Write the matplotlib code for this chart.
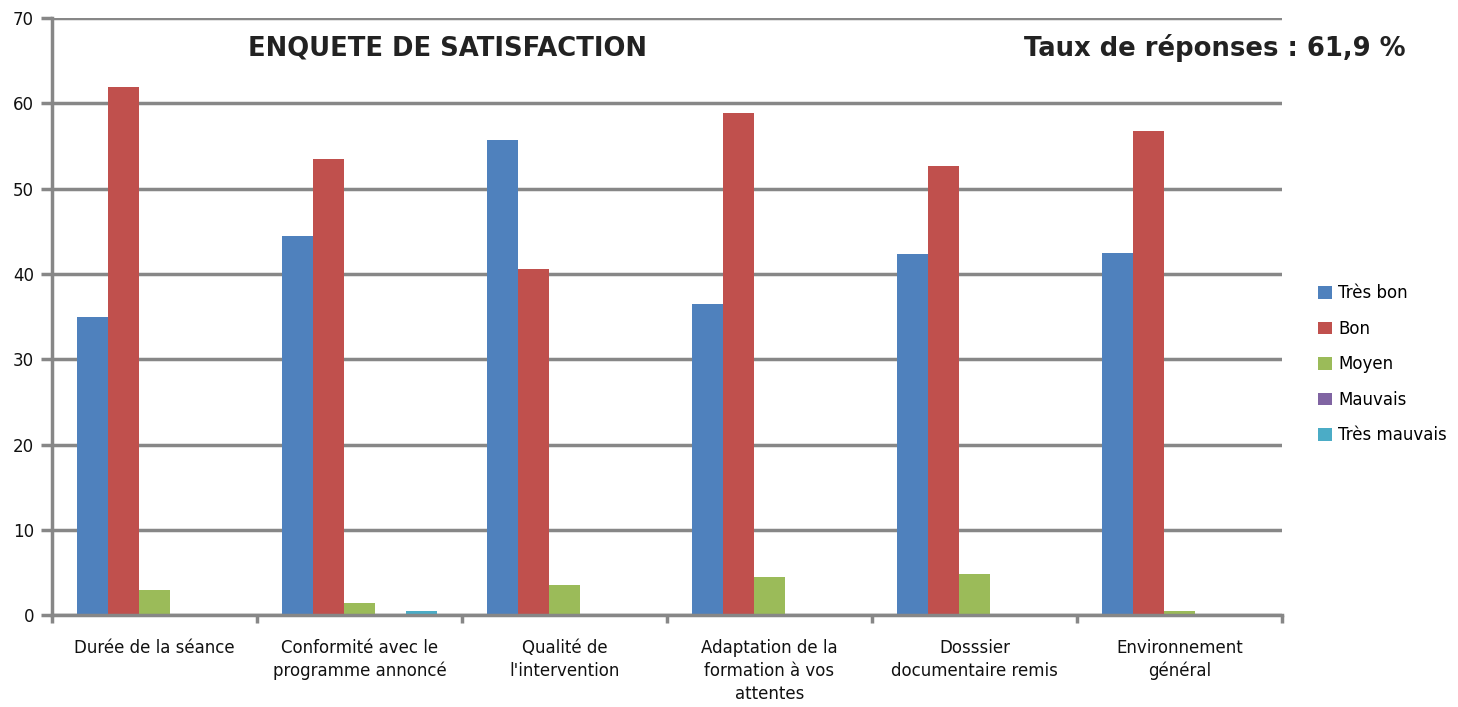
import numpy as np
import matplotlib.pyplot as plt

# Données
categories = ["Durée de la séance", "Conformité avec le\nprogramme annoncé",
              "Qualité de\nl'intervention", "Adaptation de la\nformation à vos\nattentes",
              "Dosssier\ndocumentaire remis", "Environnement\ngénéral"]
tres_bon = [35.0, 44.4, 55.7, 36.5, 42.3, 42.5]
bon = [61.9, 53.5, 40.6, 58.9, 52.6, 56.8]
moyen = [3.0, 1.4, 3.5, 4.5, 4.8, 0.5]
mauvais = [0, 0, 0, 0, 0, 0]
tres_mauvais = [0, 0.5, 0, 0, 0, 0]

series = [("Très bon", tres_bon, "#4F81BD"), ("Bon", bon, "#C0504D"),
          ("Moyen", moyen, "#9BBB59"), ("Mauvais", mauvais, "#8064A2"),
          ("Très mauvais", tres_mauvais, "#4BACC6")]

plt.rcParams['font.family'] = ['DejaVu Sans']

fig = plt.figure(figsize=(14.58, 7.07), dpi=100)
ax = fig.add_axes([0.0357, 0.130, 0.8436, 0.8445])

x = np.arange(len(categories))
w = 0.151
for i, (nom, vals, col) in enumerate(series):
    ax.bar(x + (i - 2) * w, vals, w, color=col, label=nom, zorder=2)

ax.set_xlim(-0.5, len(categories) - 0.5)
ax.set_ylim(0, 70)
ax.set_yticks(range(0, 71, 10))
ax.set_xticks(x)
ax.set_xticklabels(categories, fontsize=12, linespacing=1.35, color='#111111')
ax.set_xticks(np.arange(-0.5, len(categories), 1), minor=True)
ax.tick_params(axis='x', which='major', length=0, pad=17)
ax.tick_params(axis='x', which='minor', length=6, width=2.5, color='#878787', direction='out')
ax.tick_params(axis='y', length=8, width=2.5, color='#878787', labelsize=12, pad=5,
               labelcolor='#111111')

ax.grid(axis='y', color='#878787', linewidth=2.5, zorder=0)
ax.set_axisbelow(True)
for s in ['top', 'right']:
    ax.spines[s].set_visible(False)
for s in ['left', 'bottom']:
    ax.spines[s].set_color('#878787')
    ax.spines[s].set_linewidth(2.5)

fig.text(0.307, 0.932, "ENQUETE DE SATISFACTION", fontsize=18.6, fontweight='bold',
         ha='center', va='center', color='#222222')
fig.text(0.964, 0.932, "Taux de réponses : 61,9 %", fontsize=18.6, fontweight='bold',
         ha='right', va='center', color='#222222')

fig.legend(loc='upper left', bbox_to_anchor=(0.894, 0.619), frameon=False,
           fontsize=12, handlelength=0.8, handleheight=0.8, labelspacing=1.05,
           handletextpad=0.4)

plt.savefig('out.png', dpi=100)
